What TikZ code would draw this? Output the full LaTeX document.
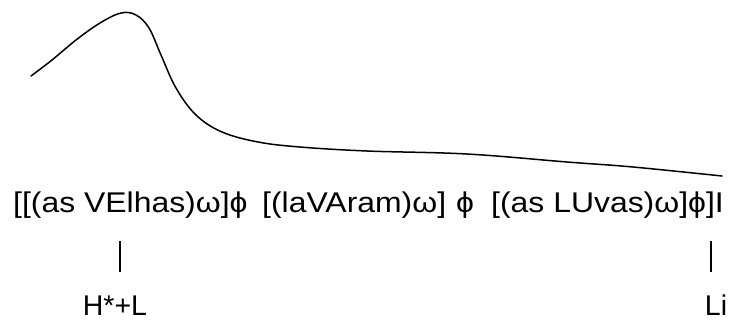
\documentclass[tikz,border=0pt]{standalone}
\usepackage{fontspec}
\setmainfont{Liberation Sans}
\newfontfamily\stretched{Liberation Sans}[FakeStretch=1.12]
\begin{document}
\begin{tikzpicture}[x=1pt,y=-1pt,
  phr/.style={inner sep=0pt, font=\stretched\fontsize{28.5}{28.5}\selectfont},
  lab/.style={anchor=base, inner sep=0pt, font=\fontsize{28.5}{28.5}\selectfont},
  bar/.style={line width=2.6pt},
  contour/.style={line width=1.5pt, line cap=round, line join=round}]
\useasboundingbox[fill=white] (0,0) rectangle (732,322);
% pitch contour
\draw[contour] plot[smooth, tension=0.6] coordinates {
  (31,76) (52,60) (76,40) (100,23) (121,13) (136,15) (149,28) (161,55)
  (176,88) (196,115) (222,132) (258,142) (300,147) (367,151) (467,154)
  (567,162) (633,167) (722,176)};
% text
\node[phr, anchor=base west] (p1) at (13,212) {[[(as VElhas)ω]ϕ};
\node[phr, anchor=base west] (p2) at (262,212) {[(laVAram)ω]};
\node[phr, anchor=base] (p3) at (465,212) {ϕ};
\node[phr, anchor=base east] (p4) at (724,212) {[(as LUvas)ω]ϕ]I};
% tone labels
\node[lab] (t1) at (115,315) {H*+L};
\node[lab] (t2) at (716,315) {Li};
\coordinate (b1a) at (120,241);
\coordinate (b1b) at (120,272);
\coordinate (b2a) at (711,241);
\coordinate (b2b) at (711,272);
\draw[bar] (b1a) -- (b1b);
\draw[bar] (b2a) -- (b2b);
\end{tikzpicture}
\end{document}
